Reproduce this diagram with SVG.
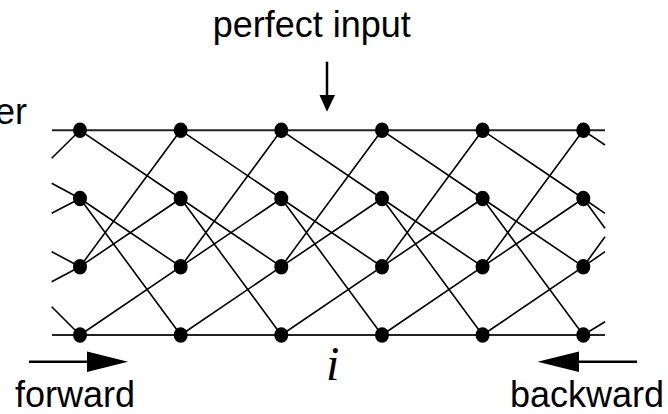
<svg xmlns="http://www.w3.org/2000/svg" width="668" height="414" viewBox="0 0 668 414">
<style>
.lbl{font-family:"Liberation Sans",Arial,sans-serif;font-size:36px;fill:#000}
.it{font-family:"Liberation Serif","Times New Roman",serif;font-style:italic;font-size:48px;fill:#000}
.h{stroke:#222;stroke-width:2;fill:none}
.e{stroke:#000;stroke-width:1.6;fill:none}
.n{fill:#000}
.arr{stroke:#000;stroke-width:2.5;fill:none}
</style>
<rect width="668" height="414" fill="#fff"/>
<text class="lbl" x="27" y="124" text-anchor="end">er</text>
<text class="lbl" x="212.7" y="37">perfect input</text>
<text class="lbl" x="15" y="407">forward</text>
<text class="lbl" x="664" y="407" text-anchor="end">backward</text>
<text class="it" x="326" y="380">i</text>
<g id="arrows">
<line class="arr" x1="327" y1="61.7" x2="327" y2="96"/>
<polygon points="319.5,95 335,95 327,111.7" fill="#000"/>
<line class="arr" x1="29" y1="361.7" x2="89" y2="361.7"/>
<polygon points="87,351.5 128,361.7 87,372" fill="#000"/>
<line class="arr" x1="577" y1="361.7" x2="637" y2="361.7"/>
<polygon points="579,351.5 537.5,361.7 579,372" fill="#000"/>
</g>
<g id="connectors">
<line class="h" x1="52" y1="130.3" x2="605" y2="130.3"/>
<line class="h" x1="52" y1="335" x2="605" y2="335"/>
<path class="e" d="M51.7 158.3L80 130.3M51.7 183.3L80 198.5M51.7 213.3L80 198.5M51.7 251.7L80 266.7M51.7 281.7L80 266.7M51.7 306.7L80 335"/>
<path class="e" d="M583.3 130.3L605 145M583.3 198.5L605 213.3M583.3 198.5L605 228.3M583.3 266.7L605 236.7M583.3 266.7L605 251.7M583.3 335L605 321.7"/>
<path class="e" d="M80 130.3L180.7 198.5M80 198.5L180.7 266.7M80 198.5L180.7 335M80 266.7L180.7 130.3M80 266.7L180.7 198.5M80 335L180.7 266.7"/>
<path class="e" d="M180.7 130.3L281.3 198.5M180.7 198.5L281.3 266.7M180.7 198.5L281.3 335M180.7 266.7L281.3 130.3M180.7 266.7L281.3 198.5M180.7 335L281.3 266.7"/>
<path class="e" d="M281.3 130.3L382 198.5M281.3 198.5L382 266.7M281.3 198.5L382 335M281.3 266.7L382 130.3M281.3 266.7L382 198.5M281.3 335L382 266.7"/>
<path class="e" d="M382 130.3L482.6 198.5M382 198.5L482.6 266.7M382 198.5L482.6 335M382 266.7L482.6 130.3M382 266.7L482.6 198.5M382 335L482.6 266.7"/>
<path class="e" d="M482.6 130.3L583.3 198.5M482.6 198.5L583.3 266.7M482.6 198.5L583.3 335M482.6 266.7L583.3 130.3M482.6 266.7L583.3 198.5M482.6 335L583.3 266.7"/>
</g>
<g id="n0_0"><ellipse class="n" cx="80" cy="130.3" rx="7" ry="7.8"/></g>
<g id="n0_1"><ellipse class="n" cx="80" cy="198.5" rx="7" ry="7.8"/></g>
<g id="n0_2"><ellipse class="n" cx="80" cy="266.7" rx="7" ry="7.8"/></g>
<g id="n0_3"><ellipse class="n" cx="80" cy="335" rx="7" ry="7.8"/></g>
<g id="n1_0"><ellipse class="n" cx="180.7" cy="130.3" rx="7" ry="7.8"/></g>
<g id="n1_1"><ellipse class="n" cx="180.7" cy="198.5" rx="7" ry="7.8"/></g>
<g id="n1_2"><ellipse class="n" cx="180.7" cy="266.7" rx="7" ry="7.8"/></g>
<g id="n1_3"><ellipse class="n" cx="180.7" cy="335" rx="7" ry="7.8"/></g>
<g id="n2_0"><ellipse class="n" cx="281.3" cy="130.3" rx="7" ry="7.8"/></g>
<g id="n2_1"><ellipse class="n" cx="281.3" cy="198.5" rx="7" ry="7.8"/></g>
<g id="n2_2"><ellipse class="n" cx="281.3" cy="266.7" rx="7" ry="7.8"/></g>
<g id="n2_3"><ellipse class="n" cx="281.3" cy="335" rx="7" ry="7.8"/></g>
<g id="n3_0"><ellipse class="n" cx="382" cy="130.3" rx="7" ry="7.8"/></g>
<g id="n3_1"><ellipse class="n" cx="382" cy="198.5" rx="7" ry="7.8"/></g>
<g id="n3_2"><ellipse class="n" cx="382" cy="266.7" rx="7" ry="7.8"/></g>
<g id="n3_3"><ellipse class="n" cx="382" cy="335" rx="7" ry="7.8"/></g>
<g id="n4_0"><ellipse class="n" cx="482.6" cy="130.3" rx="7" ry="7.8"/></g>
<g id="n4_1"><ellipse class="n" cx="482.6" cy="198.5" rx="7" ry="7.8"/></g>
<g id="n4_2"><ellipse class="n" cx="482.6" cy="266.7" rx="7" ry="7.8"/></g>
<g id="n4_3"><ellipse class="n" cx="482.6" cy="335" rx="7" ry="7.8"/></g>
<g id="n5_0"><ellipse class="n" cx="583.3" cy="130.3" rx="7" ry="7.8"/></g>
<g id="n5_1"><ellipse class="n" cx="583.3" cy="198.5" rx="7" ry="7.8"/></g>
<g id="n5_2"><ellipse class="n" cx="583.3" cy="266.7" rx="7" ry="7.8"/></g>
<g id="n5_3"><ellipse class="n" cx="583.3" cy="335" rx="7" ry="7.8"/></g>
</svg>
